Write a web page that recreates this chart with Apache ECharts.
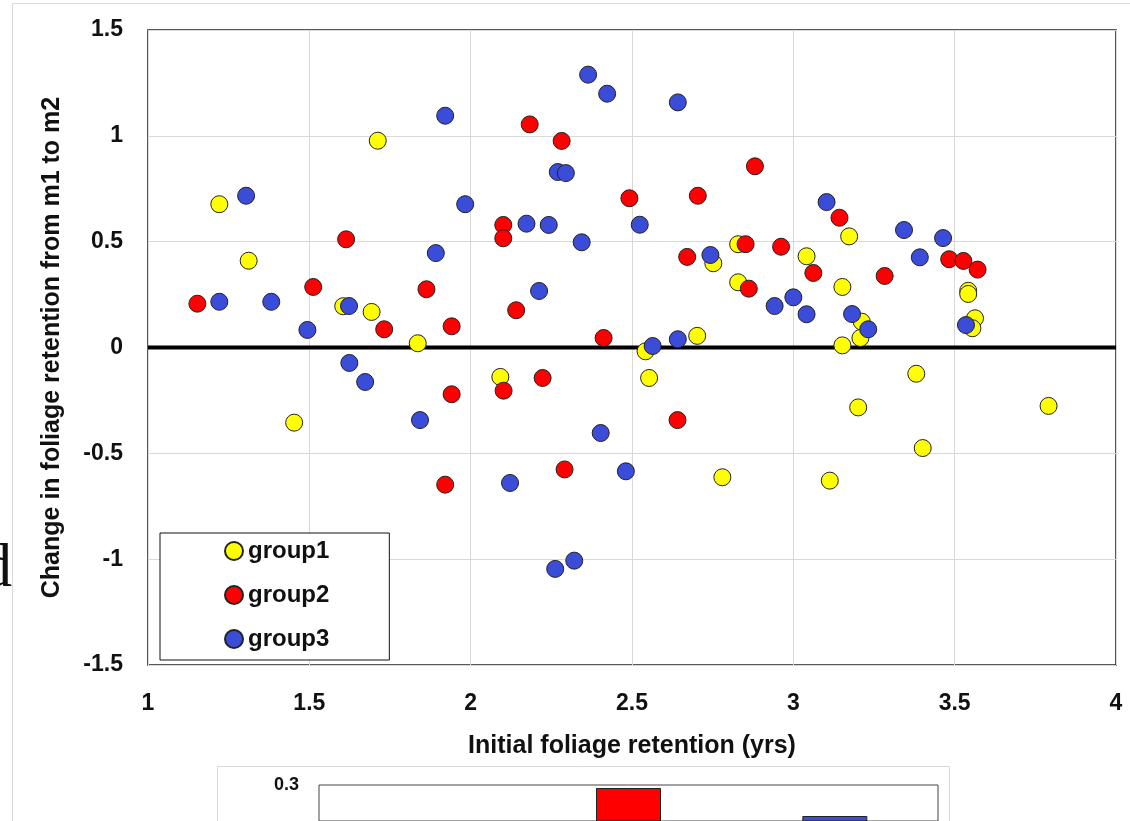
<!DOCTYPE html>
<html>
<head>
<meta charset="utf-8">
<title>Change in foliage retention</title>
<script src="https://cdn.jsdelivr.net/npm/echarts@6/dist/echarts.min.js"></script>
<style>
  html, body { margin: 0; padding: 0; background: #ffffff; }
  #chart { width: 1130px; height: 821px; }
</style>
</head>
<body>
<div id="chart"></div>
<script>
// Initial foliage retention (yrs) vs change in retention from m1 to m2
const group1 = [
  [1.221, 0.677], [1.312, 0.410], [1.712, 0.977], [1.605, 0.195], [1.693, 0.168],
  [1.836, 0.020], [1.453, -0.355], [2.092, -0.139], [2.542, -0.018], [2.553, -0.144],
  [2.702, 0.055], [2.780, -0.613], [2.752, 0.398], [2.829, 0.488], [2.829, 0.308],
  [3.041, 0.431], [3.173, 0.525], [3.152, 0.286], [3.152, 0.010], [3.212, 0.122],
  [3.208, 0.045], [3.201, -0.283], [3.381, -0.124], [3.401, -0.475], [3.113, -0.629],
  [3.791, -0.276], [3.542, 0.268], [3.542, 0.253], [3.563, 0.138], [3.555, 0.091]
];
const group2 = [
  [1.153, 0.207], [1.512, 0.286], [1.614, 0.511], [1.732, 0.086], [1.863, 0.275],
  [1.941, 0.100], [1.941, -0.221], [1.921, -0.648], [2.101, 0.579], [2.101, 0.516],
  [2.183, 1.054], [2.282, 0.976], [2.141, 0.176], [2.102, -0.204], [2.223, -0.144],
  [2.291, -0.576], [2.412, 0.045], [2.492, 0.705], [2.641, -0.343], [2.704, 0.717],
  [2.671, 0.428], [2.852, 0.488], [2.862, 0.278], [2.881, 0.856], [2.962, 0.476],
  [3.062, 0.352], [3.143, 0.613], [3.283, 0.338], [3.483, 0.417], [3.527, 0.409],
  [3.571, 0.368]
];
const group3 = [
  [1.304, 0.717], [1.221, 0.216], [1.382, 0.216], [1.494, 0.083], [1.623, 0.196],
  [1.892, 0.446], [1.983, 0.677], [1.921, 1.095], [1.624, -0.073], [1.673, -0.163],
  [1.843, -0.343], [2.122, -0.640], [2.262, -1.046], [2.321, -1.007], [2.403, -0.404],
  [2.481, -0.585], [2.564, 0.007], [2.642, 0.039], [2.173, 0.585], [2.242, 0.579],
  [2.212, 0.267], [2.344, 0.497], [2.270, 0.829], [2.295, 0.824], [2.364, 1.289],
  [2.423, 1.199], [2.642, 1.158], [2.524, 0.580], [2.743, 0.437], [2.942, 0.196],
  [3.000, 0.237], [3.041, 0.157], [3.103, 0.687], [3.182, 0.158], [3.232, 0.086],
  [3.343, 0.555], [3.392, 0.426], [3.464, 0.517], [3.535, 0.106]
];
// zero reference line across the x range
const zeroLine = [[1, 0], [4, 0]];

// group means in the lower panel (only its top strip fits on the page)
const barCategories = ['group1', 'group2', 'group3'];
const barValues = [null, 0.297, 0.269];
const barAxisTop = 0.3;
const barAxisVisibleMin = 0.264;

const groupColors = ['#ffff00', '#ff0000', '#3b4cd9'];
const fontMain = '"Liberation Sans", Arial, sans-serif';

const chart = echarts.init(document.getElementById('chart'), null, { renderer: 'canvas' });

function scatterSeries(name, data, color) {
  return {
    name: name,
    type: 'scatter',
    xAxisIndex: 0,
    yAxisIndex: 0,
    data: data,
    symbol: 'circle',
    symbolSize: 17,
    itemStyle: { color: color, borderColor: '#222222', borderWidth: 1, opacity: 1 },
    emphasis: { disabled: true }
  };
}

chart.setOption({
  animation: false,
  backgroundColor: '#ffffff',
  textStyle: { fontFamily: fontMain },
  graphic: [
    // outer chart-area frame
    { type: 'line', z: -20, shape: { x1: 12.5, y1: 3.5, x2: 1140, y2: 3.5 }, style: { stroke: '#d9d9d9', lineWidth: 1 } },
    { type: 'line', z: -20, shape: { x1: 12.5, y1: 3.5, x2: 12.5, y2: 830 }, style: { stroke: '#d9d9d9', lineWidth: 1 } },
    // frame of the lower panel
    { type: 'rect', z: -10, shape: { x: 217.5, y: 766.5, width: 732, height: 200 }, style: { fill: '#ffffff', stroke: '#d9d9d9', lineWidth: 1 } },
    // stray glyph at the left margin
    { type: 'text', z: -5, left: -19, top: 539, style: { text: 'd', font: '62px "Liberation Serif", serif', fill: '#111111' } }
  ],
  legend: {
    data: ['group1', 'group2', 'group3'],
    orient: 'vertical',
    left: 160,
    top: 533,
    padding: [6, 60, 9, 64],
    itemGap: 20,
    itemWidth: 18,
    itemHeight: 18,
    icon: 'circle',
    backgroundColor: '#ffffff',
    borderColor: '#111111',
    borderWidth: 1,
    borderRadius: 0,
    selectedMode: false,
    textStyle: { fontSize: 24, fontWeight: 'bold', color: '#111111', fontFamily: fontMain, lineHeight: 24 }
  },
  grid: [
    { left: 148, top: 30, right: 14, bottom: 156, show: true, backgroundColor: '#ffffff', borderColor: '#222222', borderWidth: 1.5 },
    { left: 319, top: 785, width: 619, bottom: 0, show: true, backgroundColor: '#ffffff', borderColor: '#444444', borderWidth: 1 }
  ],
  xAxis: [
    {
      gridIndex: 0,
      type: 'value',
      min: 1, max: 4, interval: 0.5,
      name: 'Initial foliage retention (yrs)',
      nameLocation: 'middle',
      nameGap: 69,
      nameTextStyle: { fontSize: 25, fontWeight: 'bold', color: '#111111', fontFamily: fontMain },
      axisLine: { show: false },
      axisTick: { show: false },
      axisLabel: { fontSize: 23, fontWeight: 'bold', color: '#111111', margin: 27, fontFamily: fontMain },
      splitLine: { show: true, lineStyle: { color: '#d9d9d9', width: 1 } }
    },
    {
      gridIndex: 1,
      type: 'category',
      data: barCategories,
      axisLine: { show: false },
      axisTick: { show: false },
      axisLabel: { show: false }
    }
  ],
  yAxis: [
    {
      gridIndex: 0,
      type: 'value',
      min: -1.5, max: 1.5, interval: 0.5,
      name: 'Change in foliage retention from m1 to m2',
      nameLocation: 'middle',
      nameGap: 83,
      nameTextStyle: { fontSize: 25, fontWeight: 'bold', color: '#111111', fontFamily: fontMain },
      axisLine: { show: false },
      axisTick: { show: false },
      axisLabel: { fontSize: 23, fontWeight: 'bold', color: '#111111', margin: 25, fontFamily: fontMain },
      splitLine: { show: true, lineStyle: { color: '#d9d9d9', width: 1 } }
    },
    {
      gridIndex: 1,
      type: 'value',
      min: barAxisVisibleMin, max: barAxisTop,
      splitNumber: 1,
      axisLine: { show: false },
      axisTick: { show: false },
      axisLabel: {
        fontSize: 18, fontWeight: 'bold', color: '#111111', margin: 20, fontFamily: fontMain,
        showMinLabel: false,
        formatter: function (v) { return Math.abs(v - barAxisTop) < 1e-9 ? String(barAxisTop) : ''; }
      },
      splitLine: { show: false }
    }
  ],
  series: [
    {
      name: 'zero',
      type: 'line',
      xAxisIndex: 0,
      yAxisIndex: 0,
      data: zeroLine,
      symbol: 'none',
      silent: true,
      lineStyle: { color: '#000000', width: 4 },
      z: 1
    },
    scatterSeries('group1', group1, groupColors[0]),
    scatterSeries('group2', group2, groupColors[1]),
    scatterSeries('group3', group3, groupColors[2]),
    {
      name: 'means',
      type: 'bar',
      xAxisIndex: 1,
      yAxisIndex: 1,
      data: barValues,
      barWidth: 65,
      itemStyle: {
        color: function (p) { return groupColors[p.dataIndex]; },
        borderColor: '#222222',
        borderWidth: 1
      }
    }
  ]
});
</script>
</body>
</html>
